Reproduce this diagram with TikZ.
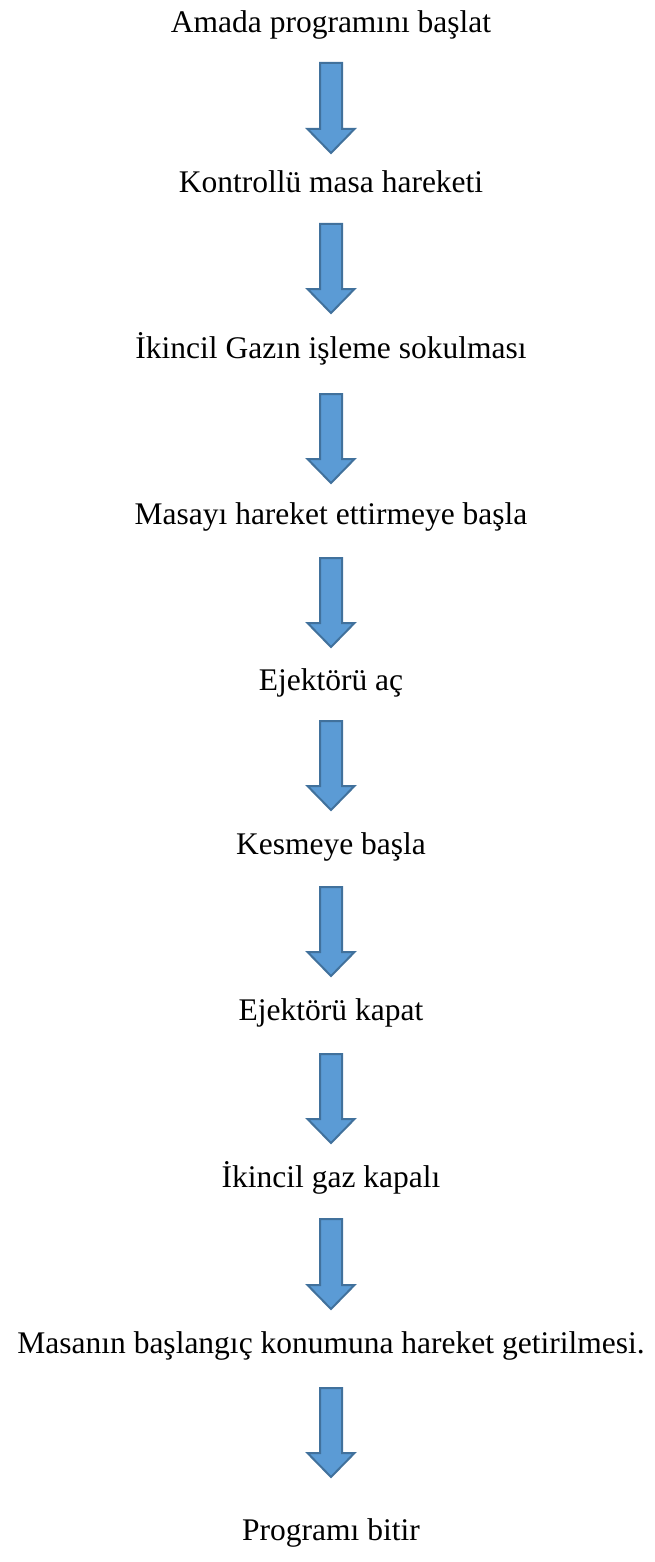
\documentclass[tikz,border=0pt]{standalone}
\usepackage{fontspec}
\setmainfont{Liberation Serif}
\usepackage{tikz}
\usetikzlibrary{calc}

\begin{document}
\begin{tikzpicture}[x=1pt,y=-1pt]

% Renkler
\definecolor{okDolgu}{HTML}{5B9BD5}
\definecolor{okKenar}{HTML}{41719C}

% Stiller
\tikzset{
  ust bosluk/.store in=\ustBosluk, ust bosluk=32pt,
  alt bosluk/.store in=\altBosluk, alt bosluk=44pt,
  metin/.style={font=\fontsize{31.5}{38}\selectfont, inner sep=0pt, anchor=base},
  okBlok/.style={draw=okKenar, fill=okDolgu, line width=2pt, line join=miter,
    to path={let \p1=(\tikztostart.base), \p2=(\tikztotarget.base) in
      (\x1-11pt,\y1-\ustBosluk) -- (\x1+11pt,\y1-\ustBosluk)
      -- (\x1+11pt,\y2+\altBosluk+24pt) -- (\x1+23.5pt,\y2+\altBosluk+24pt)
      -- (\x1,\y2+\altBosluk)
      -- (\x1-23.5pt,\y2+\altBosluk+24pt) -- (\x1-11pt,\y2+\altBosluk+24pt) -- cycle}}
}

% Sayfa
\useasboundingbox (0,0) rectangle (654,1562);

% Adimlar
\node[metin] (t1) at (331,33) {Amada programını başlat};
\node[metin] (t2) at (331,193) {Kontrollü masa hareketi};
\node[metin] (t3) at (331,358) {İkincil Gazın işleme sokulması};
\node[metin] (t4) at (331,524) {Masayı hareket ettirmeye başla};
\node[metin] (t5) at (331,690) {Ejektörü aç};
\node[metin] (t6) at (331,854) {Kesmeye başla};
\node[metin] (t7) at (331,1020) {Ejektörü kapat};
\node[metin] (t8) at (331,1187) {İkincil gaz kapalı};
\node[metin] (t9) at (331,1353) {Masanın başlangıç konumuna hareket getirilmesi.};
\node[metin] (t10) at (331,1540) {Programı bitir};

% Oklar
\path[okBlok, ust bosluk=30pt, alt bosluk=40pt] (t1) to (t2);
\path[okBlok, ust bosluk=31pt, alt bosluk=45pt] (t2) to (t3);
\path[okBlok, ust bosluk=36pt, alt bosluk=41pt] (t3) to (t4);
\path[okBlok, ust bosluk=34pt, alt bosluk=43pt] (t4) to (t5);
\path[okBlok, ust bosluk=31pt] (t5) to (t6);
\path[okBlok, ust bosluk=33pt] (t6) to (t7);
\path[okBlok, ust bosluk=34pt] (t7) to (t8);
\path[okBlok, ust bosluk=32pt] (t8) to (t9);
\path[okBlok, ust bosluk=35pt, alt bosluk=63pt] (t9) to (t10);

\end{tikzpicture}
\end{document}
